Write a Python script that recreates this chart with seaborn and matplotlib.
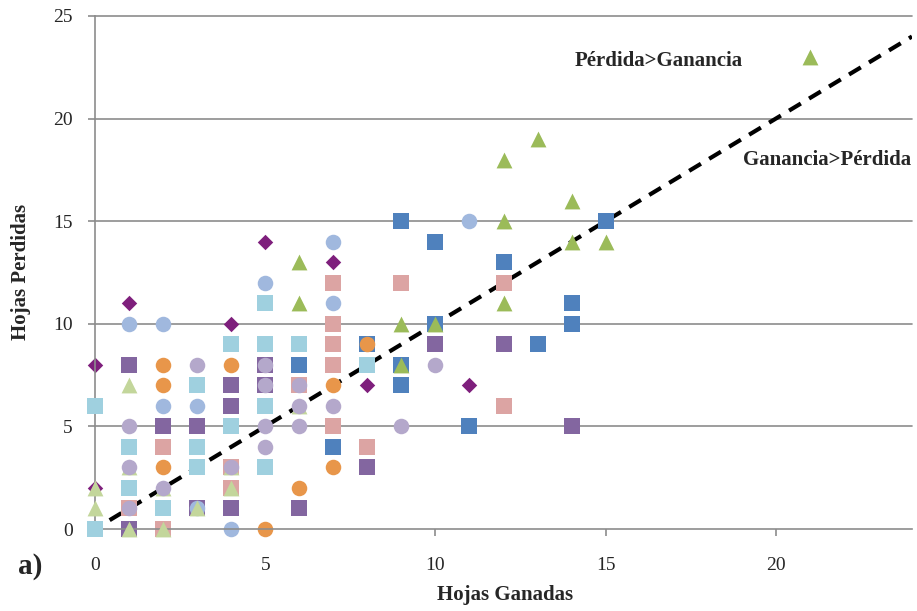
import matplotlib
matplotlib.use("Agg")
import matplotlib.pyplot as plt
import seaborn as sns
import pandas as pd

# ---- data: (hojas ganadas, hojas perdidas) per series ----
blue_sq_x = [6, 7, 8, 9, 9, 9, 10, 10, 11, 12, 13, 14, 14, 15]
blue_sq_y = [8, 4, 9, 15, 8, 7, 14, 10, 5, 13, 9, 11, 10, 15]

pink_sq_x = [2, 2, 1, 4, 4, 6, 7, 7, 7, 7, 7, 8, 9, 12, 12]
pink_sq_y = [4, 0, 1, 3, 2, 7, 12, 10, 9, 8, 5, 4, 12, 12, 6]

purple_sq_x = [1, 1, 2, 3, 3, 4, 4, 4, 5, 5, 6, 8, 10, 12, 14]
purple_sq_y = [8, 0, 5, 5, 1, 7, 6, 1, 8, 7, 1, 3, 9, 9, 5]

diamond_x = [0, 0, 1, 4, 5, 7, 8, 11]
diamond_y = [8, 2, 11, 10, 14, 13, 7, 7]

lblue_circ_x = [1, 2, 2, 3, 3, 4, 5, 7, 7, 11]
lblue_circ_y = [10, 10, 6, 6, 1, 0, 12, 14, 11, 15]

orange_circ_x = [2, 2, 2, 4, 5, 6, 7, 7, 8]
orange_circ_y = [8, 7, 3, 8, 0, 2, 7, 3, 9]

olive_tri_x = [6, 6, 9, 9, 10, 12, 12, 12, 13, 14, 14, 15, 21]
olive_tri_y = [13, 11, 10, 8, 10, 18, 15, 11, 19, 16, 14, 14, 23]

cyan_sq_x = [0, 0, 1, 1, 2, 3, 3, 3, 4, 4, 5, 5, 5, 5, 6, 8]
cyan_sq_y = [6, 0, 4, 2, 1, 7, 4, 3, 9, 5, 11, 9, 6, 3, 9, 8]

lgreen_tri_x = [0, 0, 1, 1, 2, 3, 4, 1, 2, 4, 6]
lgreen_tri_y = [2, 1, 7, 0, 0, 1, 2, 3, 2, 3, 6]

lavender_circ_x = [1, 1, 1, 2, 3, 4, 5, 5, 5, 5, 6, 6, 6, 7, 9, 10]
lavender_circ_y = [5, 3, 1, 2, 8, 3, 8, 7, 5, 4, 7, 6, 5, 6, 5, 8]

# reference line y = x
line_x = [0, 24]
line_y = [0, 24]

x_ticks = [0, 5, 10, 15, 20]
y_ticks = [0, 5, 10, 15, 20, 25]

series = [
    (blue_sq_x, blue_sq_y, "s", "#4F81BD", 120),
    (pink_sq_x, pink_sq_y, "s", "#DCA4A3", 120),
    (purple_sq_x, purple_sq_y, "s", "#8366A0", 120),
    (diamond_x, diamond_y, "D", "#7E1F7C", 62),
    (lblue_circ_x, lblue_circ_y, "o", "#A0B8DE", 125),
    (orange_circ_x, orange_circ_y, "o", "#E8964A", 125),
    (olive_tri_x, olive_tri_y, "^", "#9BBB59", 130),
    (cyan_sq_x, cyan_sq_y, "s", "#9FD0DF", 120),
    (lgreen_tri_x, lgreen_tri_y, "^", "#C3D69B", 130),
    (lavender_circ_x, lavender_circ_y, "o", "#B4A8CB", 125),
]

sns.set_style("white")
plt.rcParams["font.family"] = ["Liberation Serif", "DejaVu Serif"]

fig = plt.figure(figsize=(9.17, 6.11), dpi=100)
ax = fig.add_axes([95 / 917, 82 / 611, 817 / 917, 513 / 611])

grid_c = "#8C8C8C"
for yv in y_ticks[1:]:
    ax.axhline(yv, color=grid_c, lw=1.2, zorder=0.5, clip_on=False)

sns.lineplot(x=line_x, y=line_y, ax=ax, color="black", lw=3,
             linestyle=(1.5, (3.3, 2.3)), zorder=1.5)

for i, (xs, ys, mk, col, sz) in enumerate(series):
    df = pd.DataFrame({"g": xs, "p": ys})
    sns.scatterplot(data=df, x="g", y="p", ax=ax, marker=mk, color=col,
                    s=sz, linewidth=0, zorder=2 + i * 0.1, clip_on=False)

ax.set_xlim(0, 24)
ax.set_ylim(0, 25)
ax.set_xticks(x_ticks)
ax.set_yticks(y_ticks)
ax.set_xticklabels([str(v) for v in x_ticks])
ax.set_yticklabels([str(v) for v in y_ticks])

for side in ["top", "right"]:
    ax.spines[side].set_visible(False)
for side in ["left", "bottom"]:
    ax.spines[side].set_color(grid_c)
    ax.spines[side].set_linewidth(1.2)

ax.tick_params(axis="y", direction="out", length=5, width=1.2, color=grid_c,
               pad=11, labelsize=14, left=True)
ax.tick_params(axis="x", direction="out", length=5, width=1.2, color=grid_c,
               pad=15, labelsize=14, bottom=True)

ax.set_xlabel("Hojas Ganadas", fontsize=15, fontweight="bold", va="center")
ax.xaxis.set_label_coords((505 - 95) / 817, (529 - 595) / 513)
ax.set_ylabel("Hojas Perdidas", fontsize=15, fontweight="bold", va="center")
ax.yaxis.set_label_coords((21 - 95) / 817, (529 - 272) / 513)

ax.text(14.1, 22.8, "Pérdida>Ganancia", fontsize=15, fontweight="bold",
        ha="left", va="center")
ax.text(19.05, 18.0, "Ganancia>Pérdida", fontsize=15, fontweight="bold",
        ha="left", va="center", clip_on=False)

fig.text(18 / 917, 1 - 567 / 611, "a)", fontsize=21, fontweight="bold",
         ha="left", va="center")

fig.savefig("out.png", dpi=100)
